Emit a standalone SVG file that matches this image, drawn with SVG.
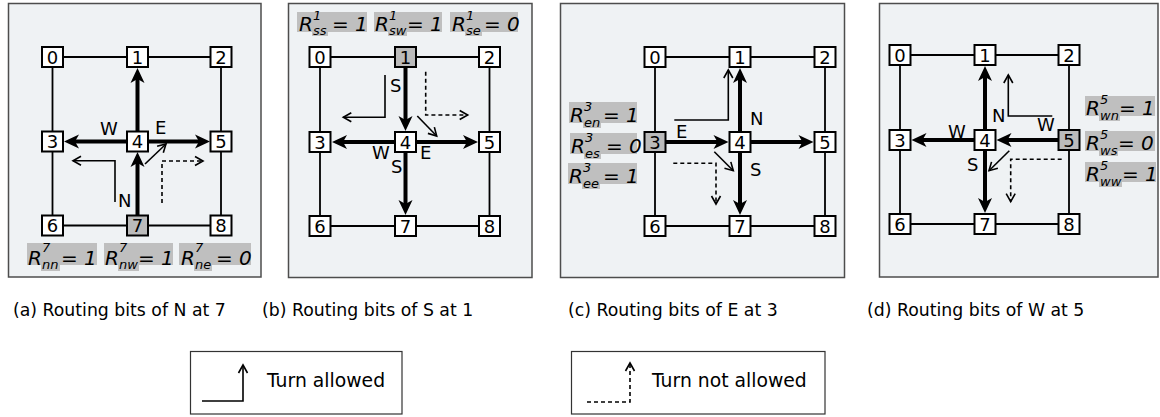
<svg xmlns="http://www.w3.org/2000/svg" width="1160" height="417" viewBox="0 0 1160 417">
<style>
.pbg{fill:#eff2f4;stroke:#4d4d4d;stroke-width:1.5}
.grid{stroke:#000;stroke-width:1.8;fill:none}
.thick{stroke:#000;stroke-width:4;fill:none;marker-end:url(#ah)}
.turn{stroke:#000;stroke-width:1.6;fill:none;marker-end:url(#oh)}
.noturn{stroke:#000;stroke-width:1.6;fill:none;stroke-dasharray:4 3;marker-end:url(#oh)}
.nd rect{fill:#fff;stroke:#000;stroke-width:2}
.nd.src rect{fill:#bbbbbb}
.nd text{font-family:"DejaVu Sans",sans-serif;font-size:18px;text-anchor:middle}
.lbl{font-family:"DejaVu Sans",sans-serif;font-size:18px}
.rb{fill:#bfbfbf}
.rl{font-family:"DejaVu Sans",sans-serif;font-style:oblique;font-size:20px}
.rs{font-family:"DejaVu Sans",sans-serif;font-style:oblique;font-size:13px}
.cap{font-family:"DejaVu Sans",sans-serif;font-size:17.3px}
.leg{fill:#fff;stroke:#333;stroke-width:1.2}
.legt{font-family:"DejaVu Sans",sans-serif;font-size:18.8px}
</style>
<defs>
<marker id="ah" viewBox="-6 -8 17 16" refX="0" refY="0" markerWidth="17" markerHeight="16" markerUnits="userSpaceOnUse" orient="auto">
<path d="M10,0 L-5,-7 L-1,0 L-5,7 Z" fill="#000"/>
</marker>
<marker id="oh" viewBox="-11 -7 13 14" refX="0" refY="0" markerWidth="13" markerHeight="14" markerUnits="userSpaceOnUse" orient="auto">
<path d="M-8,-4.5 L0,0 L-8,4.5" fill="none" stroke="#000" stroke-width="1.6"/>
</marker>
</defs>
<rect width="1160" height="417" fill="#fff"/>
<g id="panels">
<rect class="pbg" x="8.5" y="3.5" width="252.5" height="273.5"/>
<rect class="pbg" x="288.5" y="3.5" width="243.5" height="274"/>
<rect class="pbg" x="560.5" y="3.5" width="284" height="274"/>
<rect class="pbg" x="879.5" y="3.5" width="278.5" height="273.5"/>
</g>
<g id="connectors">
<path class="grid" d="M52.5,57 H221 M52.5,225.5 H221 M52.5,57 V225.5 M221,57 V225.5"/>
<path class="thick" d="M137.5,215.5 V162"/>
<path class="thick" d="M137.5,131.5 V78"/>
<path class="thick" d="M127,141.5 H74"/>
<path class="thick" d="M148,141.5 H200"/>
<path class="turn" d="M115,202 V160.7 H73"/>
<path class="turn" d="M145,164 L166,144"/>
<path class="noturn" d="M162,203 V161 H203"/>

<path class="grid" d="M320,57 H489.5 M320,226 H489.5 M320,57 V226 M489.5,57 V226"/>
<path class="thick" d="M405.5,68 V121"/>
<path class="thick" d="M394.5,142 H342"/>
<path class="thick" d="M416.5,142 H468"/>
<path class="thick" d="M405.5,153 V205"/>
<path class="turn" d="M385,75 V117.3 H343.3"/>
<path class="turn" d="M417.3,116 L436.7,136"/>
<path class="noturn" d="M425.7,71.7 V115 H467.7"/>

<path class="grid" d="M655,57 H825 M655,226 H825 M655,57 V226 M825,57 V226"/>
<path class="thick" d="M666,142 H718.5"/>
<path class="thick" d="M740,131 V78"/>
<path class="thick" d="M751,142 H803.5"/>
<path class="thick" d="M740,153 V205"/>
<path class="turn" d="M674.3,120 H728.3 V70"/>
<path class="turn" d="M714.3,151.7 L733.3,170.7"/>
<path class="noturn" d="M673.3,163.3 H716 V204"/>

<path class="grid" d="M900,55 H1069 M900,224 H1069 M900,55 V224 M1069,55 V224"/>
<path class="thick" d="M1058,140 H1006.5"/>
<path class="thick" d="M974,140 H921.5"/>
<path class="thick" d="M985,129 V76"/>
<path class="thick" d="M985,151 V203"/>
<path class="turn" d="M1052.3,116 H1008.3 V75"/>
<path class="turn" d="M1009.3,150.7 L989,170.7"/>
<path class="noturn" d="M1061.7,159.3 H1010.7 V201.7"/>
</g>

<g id="a0" class="nd"><rect x="42" y="47" width="21" height="20"/><text x="52.5" y="63.5">0</text></g>
<g id="a1" class="nd"><rect x="127" y="47" width="21" height="20"/><text x="137.5" y="63.5">1</text></g>
<g id="a2" class="nd"><rect x="210.5" y="47" width="21" height="20"/><text x="221" y="63.5">2</text></g>
<g id="a3" class="nd"><rect x="42" y="131.5" width="21" height="20"/><text x="52.5" y="148">3</text></g>
<g id="a4" class="nd"><rect x="127" y="131.5" width="21" height="20"/><text x="137.5" y="148">4</text></g>
<g id="a5" class="nd"><rect x="210.5" y="131.5" width="21" height="20"/><text x="221" y="148">5</text></g>
<g id="a6" class="nd"><rect x="42" y="215.5" width="21" height="20"/><text x="52.5" y="232">6</text></g>
<g id="a7" class="nd src"><rect x="127" y="215.5" width="21" height="20"/><text x="137.5" y="232">7</text></g>
<g id="a8" class="nd"><rect x="210.5" y="215.5" width="21" height="20"/><text x="221" y="232">8</text></g>

<g id="b0" class="nd"><rect x="309.5" y="47" width="21" height="20"/><text x="320" y="63.5">0</text></g>
<g id="b1" class="nd src"><rect x="395" y="47" width="21" height="20"/><text x="405.5" y="63.5">1</text></g>
<g id="b2" class="nd"><rect x="479" y="47" width="21" height="20"/><text x="489.5" y="63.5">2</text></g>
<g id="b3" class="nd"><rect x="309.5" y="132" width="21" height="20"/><text x="320" y="148.5">3</text></g>
<g id="b4" class="nd"><rect x="395" y="132" width="21" height="20"/><text x="405.5" y="148.5">4</text></g>
<g id="b5" class="nd"><rect x="479" y="132" width="21" height="20"/><text x="489.5" y="148.5">5</text></g>
<g id="b6" class="nd"><rect x="309.5" y="216" width="21" height="20"/><text x="320" y="232.5">6</text></g>
<g id="b7" class="nd"><rect x="395" y="216" width="21" height="20"/><text x="405.5" y="232.5">7</text></g>
<g id="b8" class="nd"><rect x="479" y="216" width="21" height="20"/><text x="489.5" y="232.5">8</text></g>

<g id="c0" class="nd"><rect x="644.5" y="47" width="21" height="20"/><text x="655" y="63.5">0</text></g>
<g id="c1" class="nd"><rect x="729.5" y="47" width="21" height="20"/><text x="740" y="63.5">1</text></g>
<g id="c2" class="nd"><rect x="814.5" y="47" width="21" height="20"/><text x="825" y="63.5">2</text></g>
<g id="c3" class="nd src"><rect x="644.5" y="132" width="21" height="20"/><text x="655" y="148.5">3</text></g>
<g id="c4" class="nd"><rect x="729.5" y="132" width="21" height="20"/><text x="740" y="148.5">4</text></g>
<g id="c5" class="nd"><rect x="814.5" y="132" width="21" height="20"/><text x="825" y="148.5">5</text></g>
<g id="c6" class="nd"><rect x="644.5" y="216" width="21" height="20"/><text x="655" y="232.5">6</text></g>
<g id="c7" class="nd"><rect x="729.5" y="216" width="21" height="20"/><text x="740" y="232.5">7</text></g>
<g id="c8" class="nd"><rect x="814.5" y="216" width="21" height="20"/><text x="825" y="232.5">8</text></g>

<g id="d0" class="nd"><rect x="889.5" y="45" width="21" height="20"/><text x="900" y="61.5">0</text></g>
<g id="d1" class="nd"><rect x="974.5" y="45" width="21" height="20"/><text x="985" y="61.5">1</text></g>
<g id="d2" class="nd"><rect x="1058.5" y="45" width="21" height="20"/><text x="1069" y="61.5">2</text></g>
<g id="d3" class="nd"><rect x="889.5" y="130" width="21" height="20"/><text x="900" y="146.5">3</text></g>
<g id="d4" class="nd"><rect x="974.5" y="130" width="21" height="20"/><text x="985" y="146.5">4</text></g>
<g id="d5" class="nd src"><rect x="1058.5" y="130" width="21" height="20"/><text x="1069" y="146.5">5</text></g>
<g id="d6" class="nd"><rect x="889.5" y="214" width="21" height="20"/><text x="900" y="230.5">6</text></g>
<g id="d7" class="nd"><rect x="974.5" y="214" width="21" height="20"/><text x="985" y="230.5">7</text></g>
<g id="d8" class="nd"><rect x="1058.5" y="214" width="21" height="20"/><text x="1069" y="230.5">8</text></g>

<g id="dir-labels" class="lbl">
<text x="100" y="135">W</text><text x="155" y="134">E</text><text x="118" y="207">N</text>
<text x="390" y="92">S</text><text x="372" y="159">W</text><text x="391" y="173">S</text><text x="420" y="159">E</text>
<text x="676" y="138">E</text><text x="750" y="125">N</text><text x="750" y="176">S</text>
<text x="948" y="138">W</text><text x="992" y="122">N</text><text x="1037" y="131">W</text><text x="967" y="171">S</text>
</g>

<g id="bits-a">
<rect class="rb" x="27" y="243" width="70" height="22"/><rect class="rb" x="41" y="265" width="19" height="6"/>
<text class="rl" x="28" y="265">R</text><text class="rs" x="42" y="252">7</text><text class="rs" x="42" y="269">nn</text><text class="rl" x="61" y="265">= 1</text>
<rect class="rb" x="104" y="243" width="69" height="22"/><rect class="rb" x="118" y="265" width="21" height="6"/>
<text class="rl" x="105" y="265">R</text><text class="rs" x="119" y="252">7</text><text class="rs" x="119" y="269">nw</text><text class="rl" x="138" y="265">= 1</text>
<rect class="rb" x="179" y="243" width="72" height="22"/><rect class="rb" x="194" y="265" width="18" height="6"/>
<text class="rl" x="181" y="265">R</text><text class="rs" x="195" y="252">7</text><text class="rs" x="195" y="269">ne</text><text class="rl" x="216" y="265">= 0</text>
</g>
<g id="bits-b">
<rect class="rb" x="297" y="12" width="70" height="20"/><rect class="rb" x="312" y="32" width="16" height="4"/>
<text class="rl" x="299" y="31">R</text><text class="rs" x="313" y="20">1</text><text class="rs" x="313" y="35">ss</text><text class="rl" x="332" y="31">= 1</text>
<rect class="rb" x="374" y="12" width="68" height="20"/><rect class="rb" x="388" y="32" width="19" height="4"/>
<text class="rl" x="375" y="31">R</text><text class="rs" x="389" y="20">1</text><text class="rs" x="389" y="35">sw</text><text class="rl" x="407" y="31">= 1</text>
<rect class="rb" x="450" y="12" width="68" height="20"/><rect class="rb" x="465" y="32" width="17" height="4"/>
<text class="rl" x="452" y="31">R</text><text class="rs" x="466" y="20">1</text><text class="rs" x="466" y="35">se</text><text class="rl" x="484" y="31">= 0</text>
</g>
<g id="bits-c">
<rect class="rb" x="569" y="102" width="68" height="21"/><rect class="rb" x="583" y="123" width="18" height="5"/>
<text class="rl" x="570" y="122">R</text><text class="rs" x="584" y="111">3</text><text class="rs" x="584" y="127">en</text><text class="rl" x="603" y="122">= 1</text>
<rect class="rb" x="570" y="133" width="67" height="21"/><rect class="rb" x="584" y="154" width="17" height="5"/>
<text class="rl" x="571" y="153">R</text><text class="rs" x="585" y="142">3</text><text class="rs" x="585" y="158">es</text><text class="rl" x="606" y="153">= 0</text>
<rect class="rb" x="568" y="163" width="69" height="21"/><rect class="rb" x="582" y="184" width="18" height="5"/>
<text class="rl" x="569" y="183">R</text><text class="rs" x="583" y="172">3</text><text class="rs" x="583" y="188">ee</text><text class="rl" x="603" y="183">= 1</text>
</g>
<g id="bits-d">
<rect class="rb" x="1085" y="96" width="70" height="20"/><rect class="rb" x="1099" y="116" width="21" height="5"/>
<text class="rl" x="1086" y="115">R</text><text class="rs" x="1100" y="104">5</text><text class="rs" x="1100" y="120">wn</text><text class="rl" x="1119" y="115">= 1</text>
<rect class="rb" x="1085" y="131" width="70" height="20"/><rect class="rb" x="1099" y="151" width="19" height="5"/>
<text class="rl" x="1086" y="150">R</text><text class="rs" x="1100" y="139">5</text><text class="rs" x="1100" y="155">ws</text><text class="rl" x="1118" y="150">= 0</text>
<rect class="rb" x="1085" y="162" width="71" height="20"/><rect class="rb" x="1099" y="182" width="23" height="5"/>
<text class="rl" x="1086" y="181">R</text><text class="rs" x="1100" y="170">5</text><text class="rs" x="1100" y="186">ww</text><text class="rl" x="1122" y="181">= 1</text>
</g>

<g id="captions" class="cap">
<text x="13" y="316">(a) Routing bits of N at 7</text>
<text x="262" y="316">(b) Routing bits of S at 1</text>
<text x="568" y="316">(c) Routing bits of E at 3</text>
<text x="867" y="316">(d) Routing bits of W at 5</text>
</g>

<g id="legend-allowed">
<rect class="leg" x="190.5" y="351.5" width="211.5" height="62.5"/>
<path class="turn" d="M202,401 H243 V365"/>
<text class="legt" x="267" y="387">Turn allowed</text>
</g>
<g id="legend-not-allowed">
<rect class="leg" x="571.5" y="351.5" width="253.5" height="62.5"/>
<path class="noturn" d="M587,402 H630 V363"/>
<text class="legt" x="652" y="387">Turn not allowed</text>
</g>
</svg>
